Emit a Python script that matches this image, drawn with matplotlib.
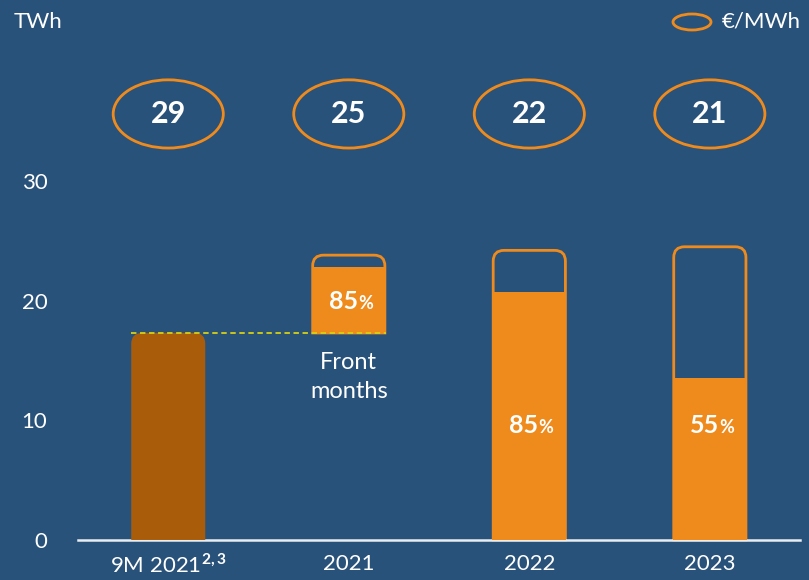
import matplotlib.pyplot as plt
from matplotlib.patches import Ellipse, PathPatch
from matplotlib.path import Path

plt.rcParams['font.family'] = ['Lato', 'DejaVu Sans']
plt.rcParams['mathtext.fontset'] = 'custom'
plt.rcParams['mathtext.rm'] = 'Lato'
plt.rcParams['mathtext.bf'] = 'Lato:bold'

# data
categories = ['9M $\\mathregular{2021^{\\mathbf{2,3}}}$', '2021', '2022', '2023']
bar_base = [0, 17.3, 0, 0]
bar_top = [17.3, 22.8, 20.7, 13.5]
outline_top = [None, 23.8, 24.2, 24.5]
hedge_pct = [None, '85', '85', '55']
prices = [29, 25, 22, 21]

bg = '#29527a'
orange = '#ef8b1d'
brown = '#a95d0b'
white = 'white'


def rounded_top(x0, x1, y0, y1, rx, ry):
    verts = [(x0, y0), (x0, y1 - ry), (x0, y1), (x0 + rx, y1),
             (x1 - rx, y1), (x1, y1), (x1, y1 - ry), (x1, y0), (x0, y0)]
    codes = [Path.MOVETO, Path.LINETO, Path.CURVE3, Path.CURVE3,
             Path.LINETO, Path.CURVE3, Path.CURVE3, Path.LINETO, Path.CLOSEPOLY]
    return Path(verts, codes)


fig = plt.figure(figsize=(8.09, 5.80), dpi=100, facecolor=bg)
ax = fig.add_axes([0.0964, 0.069, 0.8926, 0.619])
ax.set_facecolor(bg)
ax.set_xlim(-0.5, 3.5)
ax.set_ylim(0, 30)

w = 0.41
rx, ry = 0.06, 0.9

for i in range(len(categories)):
    x0, x1 = i - w / 2, i + w / 2
    if outline_top[i] is not None:
        ax.add_patch(PathPatch(rounded_top(x0 + 0.005, x1 - 0.005, bar_base[i], outline_top[i], rx, ry),
                               facecolor='none', edgecolor=orange, lw=2, clip_on=False, zorder=2))
        ax.bar(i, bar_top[i] - bar_base[i], bottom=bar_base[i], width=w,
               color=orange, zorder=3)
    else:
        ax.add_patch(PathPatch(rounded_top(x0, x1, bar_base[i], bar_top[i], rx, ry),
                               facecolor=brown, edgecolor='none', zorder=3))

# hedged percentage labels
for i, p in enumerate(hedge_pct):
    if p is None:
        continue
    y = (bar_base[i] + bar_top[i]) / 2 if bar_base[i] > 0 else 9.7
    ax.text(i + 0.05, y - 0.75, p, color=white, fontsize=18, fontweight='bold',
            ha='right', va='baseline', zorder=5)
    ax.text(i + 0.05, y - 0.75, '%', color=white, fontsize=13, fontweight='bold',
            ha='left', va='baseline', zorder=5)

# dashed reference line at 9M 2021 level
ax.plot([-w / 2, 1 + w / 2], [bar_top[0], bar_top[0]], ls='--', color='#d8d010',
        lw=1.3, dashes=(3, 2), zorder=4)
ax.text(1, 13.6, 'Front\nmonths', color=white, fontsize=17, ha='center',
        va='center', linespacing=1.45)

# price ellipses
for i, v in enumerate(prices):
    ax.add_patch(Ellipse((i, 35.6), 0.61, 5.7, facecolor='none', edgecolor=orange,
                         lw=2, clip_on=False))
    ax.text(i, 35.6, str(v), color=white, fontsize=22, fontweight='bold',
            ha='center', va='center')

ax.set_xticks(range(len(categories)))
ax.set_xticklabels(categories, color=white, fontsize=16)
ax.set_yticks([0, 10, 20, 30])
ax.set_yticklabels(['0', '10', '20', '30'], color=white, fontsize=16)
ax.tick_params(length=0)
ax.tick_params(axis='x', pad=10)
ax.tick_params(axis='y', pad=22)
for s in ['top', 'right', 'left']:
    ax.spines[s].set_visible(False)
ax.spines['bottom'].set_color('#e8edf2')
ax.spines['bottom'].set_linewidth(1.8)

fig.text(14 / 809, 1 - 22 / 580, 'TWh', color=white, fontsize=16, va='center')
fig.patches.append(Ellipse((692 / 809, 1 - 22 / 580), 38 / 809, 16 / 580,
                           transform=fig.transFigure, facecolor='none',
                           edgecolor=orange, lw=2))
fig.text(722 / 809, 1 - 22 / 580, '€/MWh', color=white, fontsize=16, va='center')

fig.savefig('out.png', dpi=100, facecolor=bg)
